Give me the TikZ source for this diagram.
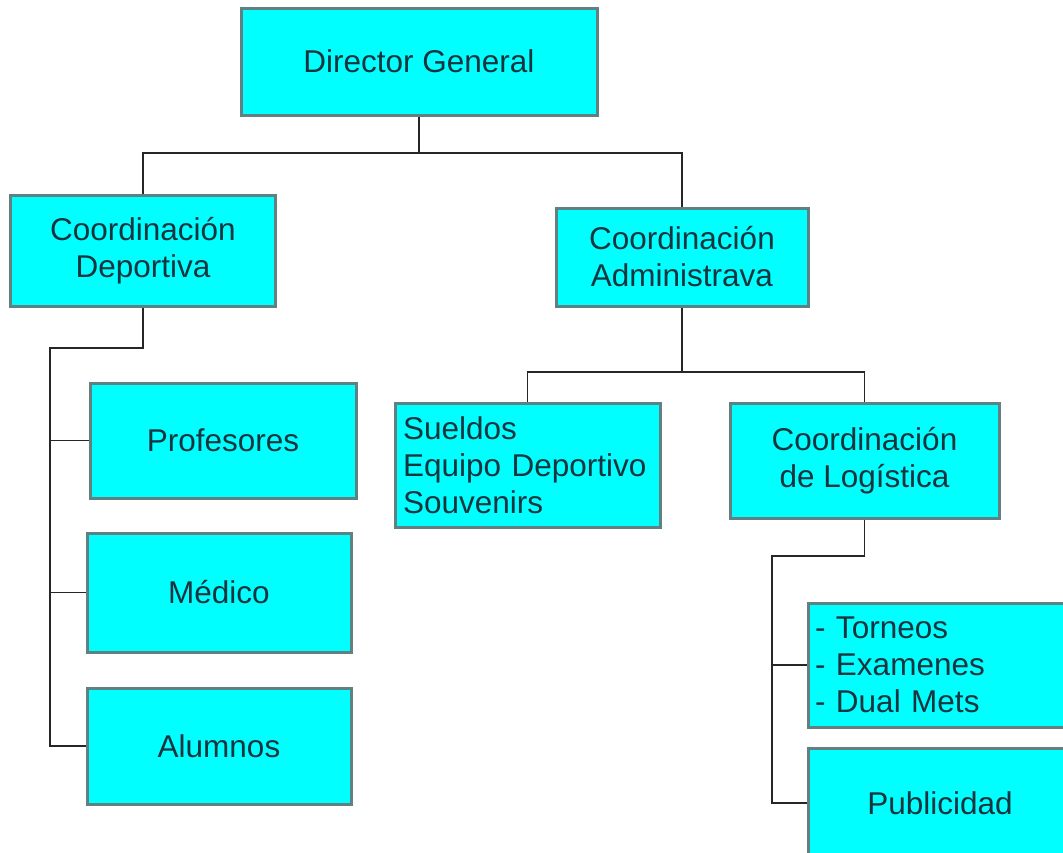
\documentclass[tikz,border=0pt]{standalone}
\usepackage{fontspec}
\setmainfont{Liberation Sans}
\begin{document}
\definecolor{boxfill}{RGB}{0,255,255}
\definecolor{boxline}{RGB}{96,128,130}
\definecolor{boxtext}{RGB}{24,52,62}
\begin{tikzpicture}[x=1pt, y=-1pt,
  orgbox/.style={draw=boxline, line width=3pt, fill=boxfill, text=boxtext,
    inner sep=0pt, align=center,
    font=\fontsize{31.5}{37}\selectfont},
  listbox/.style={orgbox, align=left, inner xsep=8pt},
  link/.style={draw=black!85, line width=1.8pt}]
  \useasboundingbox (0,0) rectangle (1063,852);
  \fill[white] (0,0) rectangle (1063,852);
  \clip (0,0) rectangle (1063,852);

  % top of the chart
  \node[orgbox, minimum width=356pt, minimum height=107pt] (dg) at (419,61.5) {Director General};

  % the two coordinations
  \node[orgbox, minimum width=265pt, minimum height=111pt] (cd) at (143,250.5) {Coordinación\\Deportiva};
  \node[orgbox, minimum width=252pt, minimum height=98pt] (ca) at (682,257) {Coordinación\\Administrava};

  % sport coordination branch
  \node[orgbox, minimum width=266pt, minimum height=115pt] (prof) at (223,440.5) {Profesores};
  \node[orgbox, minimum width=264pt, minimum height=119pt] (med) at (219,592.5) {Médico};
  \node[orgbox, minimum width=264pt, minimum height=116pt] (alu) at (219,746) {Alumnos};

  % administrative branch
  \node[listbox, text width=249pt, minimum height=124pt] (sue) at (527.5,465) {Sueldos\\Equipo Deportivo\\Souvenirs};
  \node[orgbox, minimum width=269pt, minimum height=115pt] (log) at (864.5,460.5) {Coordinación\\de Logística};

  % logistics branch
  \node[listbox, inner xsep=7pt, text width=250pt, minimum height=124pt] (tor) at (940,665) {- Torneos\\- Examenes\\- Dual Mets};
  \node[orgbox, minimum width=264pt, minimum height=110pt] (pub) at (940,803) {Publicidad};

  % junction points of the connectors
  \coordinate (j1) at (419,153);
  \coordinate (j2) at (682,372);
  \coordinate (b1) at (50,348);
  \coordinate (b2) at (772,556);

  % connectors
  \draw[link] (dg.south) -- (j1);
  \draw[link] (cd.north) |- (j1) -| (ca.north);

  \draw[link] (cd.south) |- (b1) |- (alu.west);
  \draw[link] (prof.west) -- (prof.west -| b1);
  \draw[link] (med.west) -- (med.west -| b1);

  \draw[link] (ca.south) -- (j2);
  \draw[link] (sue.north) |- (j2) -| (log.north);

  \draw[link] (log.south) |- (b2) |- (pub.west);
  \draw[link] (tor.west) -- (tor.west -| b2);
\end{tikzpicture}
\end{document}
